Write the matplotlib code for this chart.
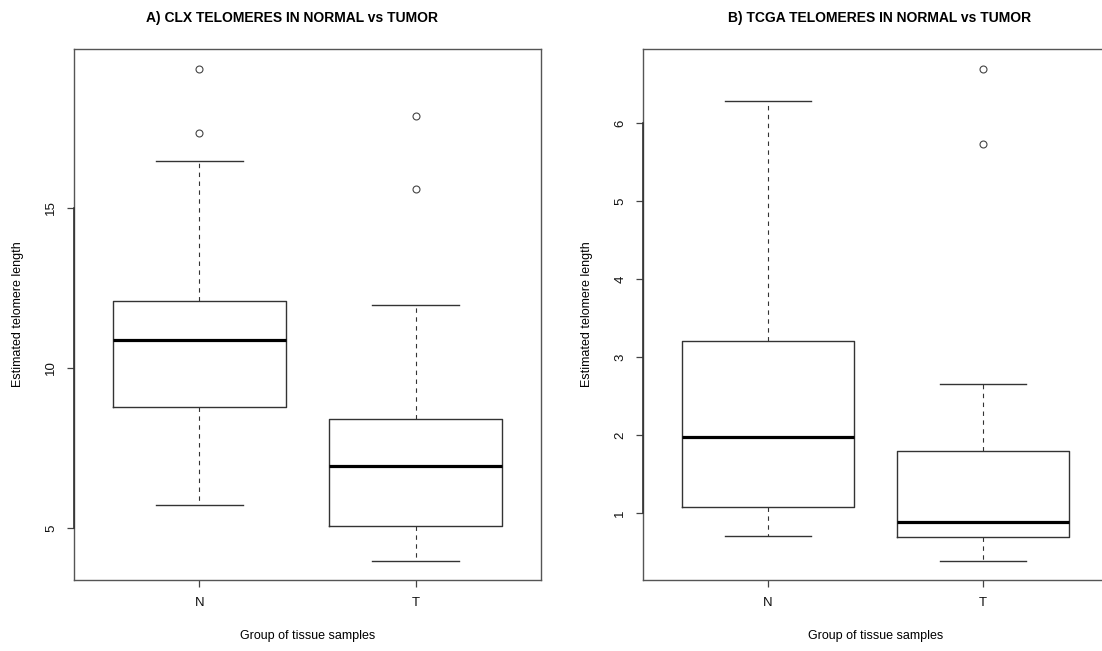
import matplotlib
matplotlib.use("Agg")
import matplotlib.pyplot as plt

plt.rcParams['font.family'] = ['Liberation Sans', 'DejaVu Sans']

# group labels
groups = ['N', 'T']

# A) CLX: whisker low, Q1, median, Q3, whisker high, outliers
clx_whislo = [5.72, 3.97]
clx_q1 = [8.78, 5.06]
clx_med = [10.875, 6.94]
clx_q3 = [12.09, 8.41]
clx_whishi = [16.47, 11.97]
clx_fliers = [[17.34, 19.34], [15.6, 17.875]]

# B) TCGA
tcga_whislo = [0.70, 0.38]
tcga_q1 = [1.08, 0.69]
tcga_med = [1.97, 0.88]
tcga_q3 = [3.20, 1.80]
tcga_whishi = [6.28, 2.66]
tcga_fliers = [[], [5.73, 6.69]]


def make_stats(whislo, q1, med, q3, whishi, fliers):
    stats = []
    for i in range(len(groups)):
        stats.append({'label': groups[i], 'whislo': whislo[i], 'q1': q1[i],
                      'med': med[i], 'q3': q3[i], 'whishi': whishi[i],
                      'fliers': fliers[i]})
    return stats


def draw_panel(ax, stats, yticks, ylim):
    ax.bxp(stats, positions=[1, 2], widths=0.8, capwidths=0.4,
           boxprops=dict(color='#333333', linewidth=1.0),
           medianprops=dict(color='black', linewidth=2.3),
           whiskerprops=dict(color='#333333', linewidth=0.8, linestyle=(0, (4, 4))),
           capprops=dict(color='#333333', linewidth=1.0),
           flierprops=dict(marker='o', markersize=5, markerfacecolor='none',
                           markeredgecolor='#444444', markeredgewidth=0.8))
    ax.set_xlim(0.42, 2.58)
    ax.set_ylim(*ylim)
    ax.set_yticks(yticks)
    ax.set_yticklabels([str(t) for t in yticks], rotation=90, va='center')
    for s in ax.spines.values():
        s.set_color('#555555')
        s.set_linewidth(1.0)
    # R-style axis line between outer ticks
    ax.plot([0, 0], [yticks[0], yticks[-1]], transform=ax.get_yaxis_transform(),
            color='#333333', linewidth=1.2, clip_on=False, zorder=5)
    ax.tick_params(axis='both', direction='out', length=5, width=0.9,
                   color='#444444', labelsize=9.5, labelcolor='#111111')
    ax.tick_params(axis='y', pad=7)
    ax.tick_params(axis='x', pad=7)
    ax.set_xlabel('Group of tissue samples', fontsize=9)
    ax.set_ylabel('Estimated telomere length', fontsize=9)
    ax.xaxis.set_label_coords(0.5, -0.105)
    ax.xaxis.label.set_va('center')
    ax.yaxis.set_label_coords(-0.12, 0.5)
    ax.yaxis.label.set_va('center')


fig = plt.figure(figsize=(11.02, 6.51), dpi=100)
W, H = 1102, 651

ax1 = fig.add_axes([74 / W, (H - 580) / H, (541 - 74) / W, (580 - 49) / H])
ax2 = fig.add_axes([643 / W, (H - 580) / H, (1108 - 643) / W, (580 - 49) / H])

draw_panel(ax1, make_stats(clx_whislo, clx_q1, clx_med, clx_q3, clx_whishi, clx_fliers),
           [5, 10, 15], (3.375, 19.97))
draw_panel(ax2, make_stats(tcga_whislo, tcga_q1, tcga_med, tcga_q3, tcga_whishi, tcga_fliers),
           [1, 2, 3, 4, 5, 6], (0.141, 6.95))

fig.text(292 / W, 1 - 18 / H, 'A) CLX TELOMERES IN NORMAL vs TUMOR',
         ha='center', va='center', fontsize=10, fontweight='bold')
fig.text(880 / W, 1 - 18 / H, 'B) TCGA TELOMERES IN NORMAL vs TUMOR',
         ha='center', va='center', fontsize=10, fontweight='bold')

fig.savefig('out.png', dpi=100)
